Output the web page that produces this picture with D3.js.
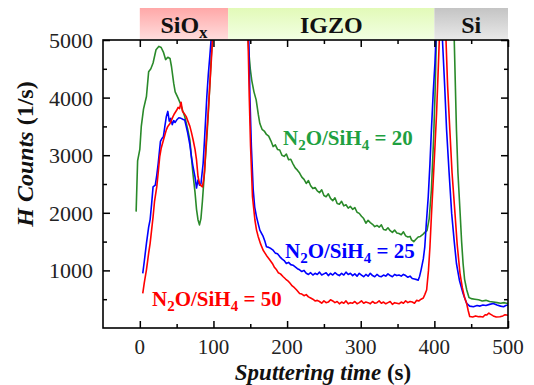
<!DOCTYPE html>
<html><head><meta charset="utf-8">
<script src="https://cdn.jsdelivr.net/npm/d3@7"></script>
<style>body{margin:0;background:#fff}svg{display:block}</style>
</head><body>
<script>
// ---- data ----
const layerNames = ["SiO", "IGZO", "Si"];
const layerStart = [0, 120, 400];
const layerEnd = [120, 400, 500];
const xTicks = [0, 100, 200, 300, 400, 500];
const yTicks = [1000, 2000, 3000, 4000, 5000];

const greenT = [-5,-3,0,2,5,9,12,15,18,22,26,29,32,35,38,41,43,46,48,52,55,58,61,65,68,72,75,77,79,81,83,85,88,91,93,95,97,100,103,142,146,148,150,152,155,158,161,163,166,169,172,175,178,181,184,187,190,193,196,199,202,205,208,211,214,217,220,223,226,229,232,235,238,241,244,247,250,253,256,259,262,265,268,271,274,277,280,283,286,289,292,295,298,301,304,307,310,313,316,319,322,325,328,331,334,337,340,343,346,349,352,355,358,361,364,367,369,372,375,378,381,384,387,390,393,396,399,401,403,406,424,427,430,432,435,437,439,441,444,447,450,455,460,465,470,475,480,485,490,495,500];
const greenH = [2020,2900,3100,3500,3800,4020,4450,4500,4600,4830,4890,4870,4790,4660,4700,4680,4540,4250,4100,3990,3900,3780,3670,3450,3260,2700,2350,2060,1880,1790,1900,2200,2740,3300,3730,4200,4710,5300,7000,7000,5200,4800,4500,4300,4100,3960,3700,3550,3450,3420,3360,3330,3250,3150,3180,3100,3090,3000,2980,3020,2920,2930,2850,2780,2740,2690,2620,2580,2510,2560,2470,2420,2440,2380,2350,2400,2300,2280,2330,2250,2210,2260,2160,2150,2200,2120,2140,2080,2110,2060,2090,2010,1990,1940,1900,1820,1870,1830,1800,1760,1780,1750,1790,1710,1700,1740,1690,1660,1700,1650,1640,1620,1670,1600,1580,1590,1530,1500,1540,1580,1590,1620,1660,1690,1900,2400,3300,4100,5200,7000,7000,5000,3440,2700,1990,1500,1120,850,660,530,510,500,490,470,480,460,450,440,430,440,425];

const blueT = [4,6,9,12,14,16,18,21,23,25,28,30,32,34,36,38,40,42,44,46,48,50,53,56,59,61,63,65,68,70,72,75,77,79,81,83,86,88,91,93,95,98,101,144,148,149.5,151.5,154,156,158.5,161,163,165.5,167.5,170,172,175,178,181,184,187,190,193,196,199,202,205,208,211,214,217,220,223,226,229,232,235,238,241,244,247,250,253,256,259,262,265,268,271,274,277,280,283,286,289,292,295,298,301,304,307,310,313,316,319,322,325,328,331,334,337,340,343,346,349,352,355,358,361,364,367,370,373,376,378,380,382,385,387,389,391.7,394,396,398.5,400.8,403,405,409,411,414,416.6,420,423.5,427,430,434,439,443.8,448,453,458,462,466,470,475,480,485,490,494,497,500];
const blueH = [950,1150,1470,1750,1880,2150,2450,2480,2650,2860,3240,3290,3320,3500,3670,3760,3590,3640,3530,3600,3570,3610,3650,3640,3620,3610,3500,3390,3180,2980,2820,2620,2430,2570,2480,2500,2860,3300,4020,4400,4710,5200,7000,7000,5000,4020,3150,2400,2100,1930,1800,1700,1640,1590,1500,1410,1400,1380,1350,1300,1290,1240,1200,1170,1120,1140,1100,1090,1060,1030,1010,980,1000,950,930,960,920,950,930,970,920,940,960,910,950,920,960,930,910,950,920,970,930,950,910,940,900,950,920,890,930,900,950,910,890,930,900,890,920,900,940,910,890,930,910,920,900,930,910,880,900,860,850,840,830,900,1010,1200,1410,1800,2280,2850,3440,4100,4600,5300,7000,7000,5000,4200,3440,2700,1990,1500,1120,830,600,430,380,370,390,380,400,390,410,425,400,380,370,390,400];

const redT = [4,6,9,12,14,16,18,20,23,25,27,29,32,34,36,38,41,43,45,47,50,52,54,56,58,60,63,65,68,70,72.5,75,77,79,81,83,85,87,88,90,92.8,95,97.4,100,103,143,147,148.6,150.4,153,156.3,158.5,160.7,164,167.5,170,173,176.6,180,183,185.7,188,191,194.7,198,201,203.8,207,210,213,215,217,220,223,226,229,232,235,238,241,244,247,250,253,256,259,262,265,268,271,274,277,280,283,286,289,292,295,298,301,304,307,310,313,316,319,322,325,328,331,334,337,340,343,346,349,352,355,358,361,364,367,370,373,376,379,382,385,387,389.5,392,394,396,398.5,401,403,405,406.7,409,413,415.8,418,421,424,428,431,434.8,438,441,443.8,446,448,452,456,460,462,466,469,471,474,476,480,484,489,493,496,500];
const redH = [600,780,1010,1300,1470,1700,1930,2200,2450,2700,2970,3120,3260,3350,3440,3500,3550,3610,3670,3720,3780,3830,3810,3920,3760,3730,3670,3600,3500,3400,3260,3100,2920,2630,2510,2470,2450,2600,2740,3200,3730,4200,4710,5300,7000,7000,5000,4020,3150,2280,1875,1700,1590,1460,1350,1300,1240,1180,1120,1050,1010,960,940,890,850,820,780,730,700,660,630,600,590,560,580,540,520,500,470,480,460,430,470,440,450,490,470,440,460,420,450,430,470,420,440,430,460,420,440,470,430,450,440,420,460,430,440,470,430,450,420,440,460,410,440,430,420,450,430,470,440,460,450,430,480,470,500,520,580,660,1000,1410,1950,2570,3200,3730,4400,5000,7000,7000,5000,4200,3440,2700,1990,1450,950,700,530,430,300,200,190,210,195,200,190,230,225,260,240,210,190,196,210,230,220];

const seriesNames = ["N2O/SiH4 = 20", "N2O/SiH4 = 25", "N2O/SiH4 = 50"];
// ---- drawing ----
const W = 534, H = 385;
const m = {left: 103, top: 40, right: 26, bottom: 57};
const pw = W - m.left - m.right, ph = H - m.top - m.bottom;
const FONT = '"Liberation Serif"';

const svg = d3.select("body").append("svg").attr("width", W).attr("height", H);
const x = d3.scaleLinear().domain([-50, 500]).range([m.left, m.left + pw]);
const y = d3.scaleLinear().domain([0, 5000]).range([m.top + ph, m.top]);

const defs = svg.append("defs");
const grads = [["#ffa8a8", "#ffdcdc"], ["#e2fab8", "#f2ffe2"], ["#c4c4c4", "#e8e8e8"]];
grads.forEach((g, i) => {
  const lg = defs.append("linearGradient").attr("id", "g" + i).attr("x1", 0).attr("x2", 0).attr("y1", 0).attr("y2", 1);
  lg.append("stop").attr("offset", "0%").attr("stop-color", g[0]);
  lg.append("stop").attr("offset", "100%").attr("stop-color", g[1]);
});
defs.append("clipPath").attr("id", "clip").append("rect")
  .attr("x", m.left).attr("y", m.top).attr("width", pw).attr("height", ph);

// layer bands
layerNames.forEach((n, i) => {
  svg.append("rect").attr("x", x(layerStart[i])).attr("y", 8)
    .attr("width", x(layerEnd[i]) - x(layerStart[i])).attr("height", 31)
    .attr("fill", `url(#g${i})`);
  const t = svg.append("text").attr("x", (x(layerStart[i]) + x(layerEnd[i])) / 2).attr("y", 33)
    .attr("text-anchor", "middle").attr("font-size", 24).attr("font-weight", "bold").attr("fill", "#111")
    .style("font-family", FONT);
  t.append("tspan").text(n);
  if (i === 0) t.append("tspan").attr("font-size", 17).attr("dy", 5).text("x");
});

// lines
const line = d3.line().x(d => x(d[0])).y(d => y(d[1]));
const colors = ["#2a8a2a", "#0000ff", "#ff0000"];
const data = [d3.zip(greenT, greenH), d3.zip(blueT, blueH), d3.zip(redT, redH)];
const g = svg.append("g").attr("clip-path", "url(#clip)");
data.forEach((d, i) => {
  g.append("path").datum(d).attr("d", line).attr("fill", "none")
    .attr("stroke", colors[i]).attr("stroke-width", 1.6).attr("stroke-linejoin", "round");
});

// axes with inward ticks
const xMinor = d3.range(-50, 501, 50).filter(v => v % 100 !== 0 && v > -50);
const yMinor = d3.range(500, 5000, 1000);
function tickAxis(axisFn, scale, vals, size) {
  return axisFn(scale).tickValues(vals).tickSizeInner(size).tickSizeOuter(0).tickFormat(() => "");
}
const ax = [
  [d3.axisBottom, x, xTicks, -7, m.top + ph, "x"], [d3.axisBottom, x, xMinor, -4, m.top + ph, "x"],
  [d3.axisTop, x, xTicks, -7, m.top, "x"], [d3.axisTop, x, xMinor, -4, m.top, "x"],
  [d3.axisLeft, y, yTicks, -7, m.left, "y"], [d3.axisLeft, y, yMinor, -4, m.left, "y"],
  [d3.axisRight, y, yTicks, -7, m.left + pw, "y"], [d3.axisRight, y, yMinor, -4, m.left + pw, "y"]
];
ax.forEach(a => {
  const gg = svg.append("g").attr("transform", a[5] === "x" ? `translate(0,${a[4]})` : `translate(${a[4]},0)`)
    .call(tickAxis(a[0], a[1], a[2], a[3]));
  gg.select(".domain").remove();
  gg.selectAll("text").remove();
  gg.selectAll("line").attr("stroke", "#000").attr("stroke-width", 1.5);
});
svg.append("rect").attr("x", m.left).attr("y", m.top).attr("width", pw).attr("height", ph)
  .attr("fill", "none").attr("stroke", "#000").attr("stroke-width", 1.6);

// tick labels
svg.append("g").selectAll("text").data(xTicks).join("text")
  .attr("x", d => x(d)).attr("y", 354).attr("text-anchor", "middle")
  .attr("font-size", 21).attr("fill", "#222").style("font-family", FONT).text(d => d);
svg.append("g").selectAll("text").data(yTicks).join("text")
  .attr("x", 93).attr("y", d => y(d) + 8).attr("text-anchor", "end")
  .attr("font-size", 22).attr("fill", "#222").style("font-family", FONT).text(d => d);

// axis titles
const xt = svg.append("text").attr("x", 323).attr("y", 379.5).attr("text-anchor", "middle")
  .attr("font-size", 23).attr("font-weight", "bold").attr("fill", "#111").style("font-family", FONT);
xt.append("tspan").attr("font-style", "italic").text("Sputtering time ");
xt.append("tspan").text("(s)");
const yt = svg.append("text").attr("transform", `translate(33,${(80 + 228) / 2}) rotate(-90)`)
  .attr("text-anchor", "middle").attr("font-size", 24).attr("font-weight", "bold").attr("fill", "#111")
  .style("font-family", FONT);
yt.append("tspan").attr("font-style", "italic").text("H Counts ");
yt.append("tspan").text("(1/s)");

// series labels
const labelColors = ["#20a040", "#0000ff", "#ff0000"];
const labelPos = [[283, 145], [285, 258], [152, 306]];
seriesNames.forEach((s, i) => {
  const t = svg.append("text").attr("x", labelPos[i][0]).attr("y", labelPos[i][1])
    .attr("font-size", 21).attr("font-weight", "bold").attr("fill", labelColors[i])
    .style("font-family", FONT);
  t.append("tspan").text("N");
  t.append("tspan").attr("font-size", 15).attr("dy", 5).text("2");
  t.append("tspan").attr("dy", -5).text("O/SiH");
  t.append("tspan").attr("font-size", 15).attr("dy", 5).text("4");
  t.append("tspan").attr("dy", -5).text(" = " + s.split("= ")[1]);
});
</script>
</body></html>
